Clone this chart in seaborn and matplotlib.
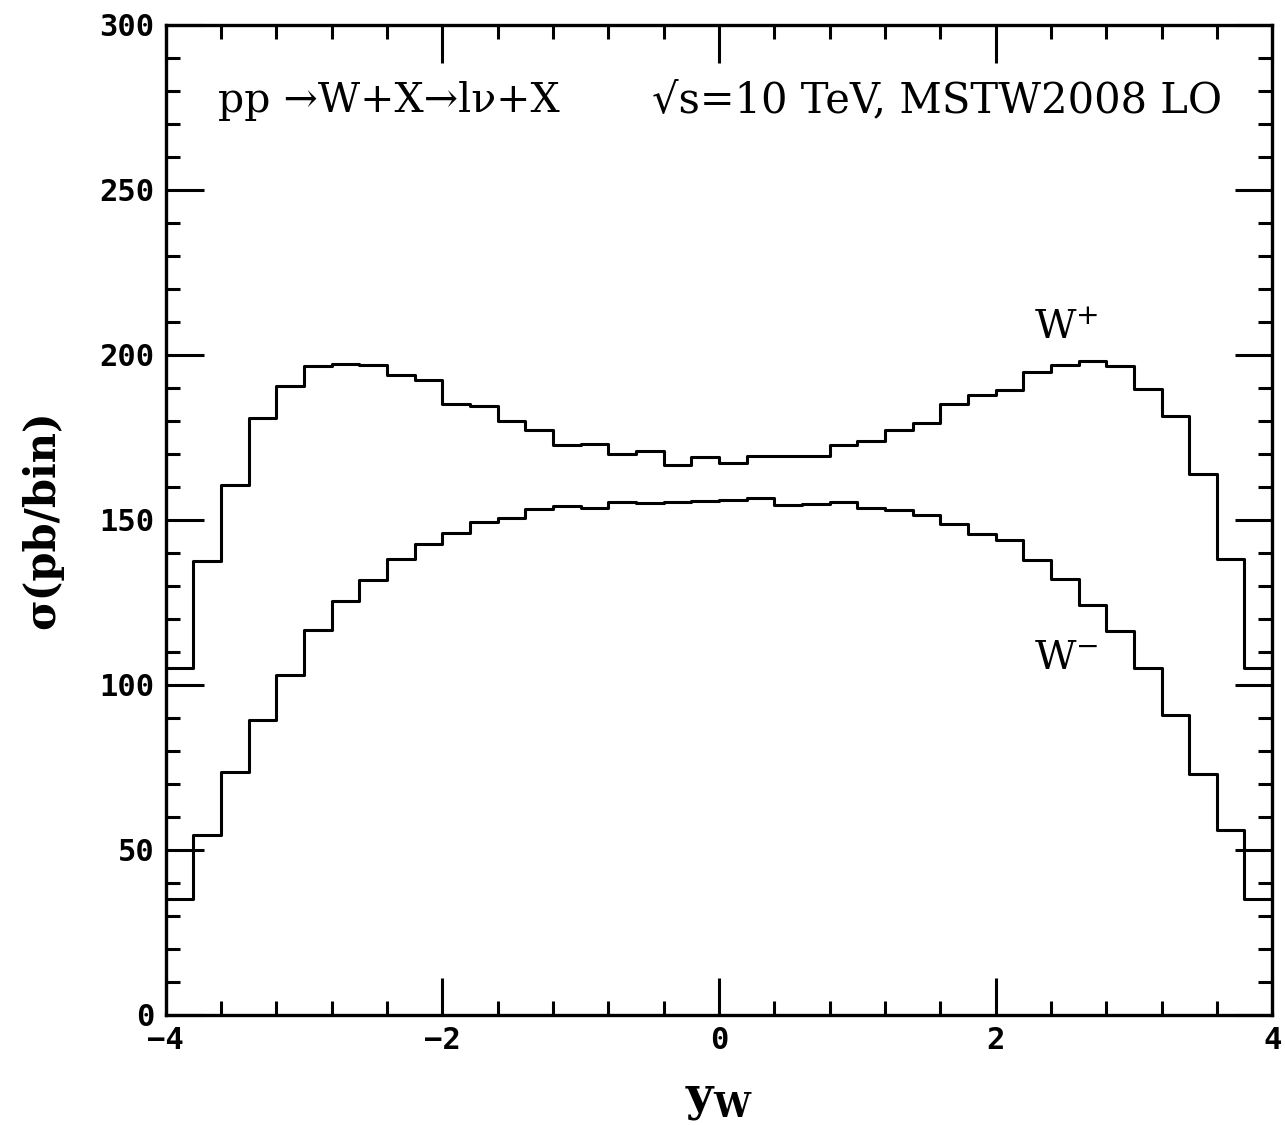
import numpy as np
import pandas as pd
import seaborn as sns
import matplotlib.pyplot as plt
from matplotlib.ticker import MultipleLocator

# bin edges of y_W (width 0.2) and per-bin cross sections
bin_lo, bin_hi, bin_w = -4.0, 4.0, 0.2
w_plus = [105.2, 137.4, 160.4, 180.8, 190.4, 196.7, 197.3, 197.0, 193.8, 192.2,
          185.0, 184.5, 179.9, 177.1, 172.6, 172.9, 170.0, 170.7, 166.5, 168.9,
          167.3, 169.2, 169.2, 169.4, 172.7, 173.9, 177.3, 179.3, 185.1, 187.8,
          189.4, 194.7, 197.0, 198.0, 196.5, 189.6, 181.3, 163.8, 138.1, 105.2]
w_minus = [35.2, 54.5, 73.7, 89.4, 102.9, 116.5, 125.4, 131.8, 138.1, 142.7,
           146.1, 149.2, 150.5, 153.2, 154.2, 153.7, 155.5, 155.2, 155.5, 155.8,
           155.9, 156.6, 154.4, 154.8, 155.5, 153.7, 153.1, 151.3, 148.6, 145.7,
           143.9, 137.9, 132.0, 124.2, 116.4, 105.2, 90.7, 73.0, 56.1, 35.2]

sns.set_style("ticks")
plt.rcParams['font.family'] = ['DejaVu Serif']
plt.rcParams['mathtext.fontset'] = 'dejavuserif'
for key in ['text.color', 'axes.labelcolor', 'axes.edgecolor', 'xtick.color', 'ytick.color']:
    plt.rcParams[key] = 'black'

centers = bin_lo + bin_w * (np.arange(len(w_plus)) + 0.5)
df = pd.DataFrame({
    'y': np.concatenate([centers, centers]),
    'sigma': w_plus + w_minus,
    'boson': ['W+'] * len(w_plus) + ['W-'] * len(w_minus),
})

fig = plt.figure(figsize=(12.85, 11.25), dpi=100)
ax = fig.add_axes([0.129, 0.098, 0.861, 0.880])

for name, sub in df.groupby('boson'):
    sns.histplot(data=sub, x='y', weights='sigma', binwidth=bin_w,
                 binrange=(bin_lo, bin_hi), element='step', fill=False,
                 color='black', linewidth=2.2, ax=ax)

ax.set_xlim(-4, 4)
ax.set_ylim(0, 300)
ax.xaxis.set_major_locator(MultipleLocator(2))
ax.xaxis.set_minor_locator(MultipleLocator(0.4))
ax.yaxis.set_major_locator(MultipleLocator(50))
ax.yaxis.set_minor_locator(MultipleLocator(10))
ax.tick_params(which='both', direction='in', top=True, right=True, width=2.2, color='black')
ax.tick_params(which='major', length=27)
ax.tick_params(which='minor', length=10)
for s in ax.spines.values():
    s.set_linewidth(2.4)
    s.set_color('black')
    s.set_visible(True)

tick_font = dict(family=['DejaVu Sans Mono'], weight='bold', size=22)
ax.set_xticks([-4, -2, 0, 2, 4])
ax.set_xticklabels(['\u22124', '\u22122', '0', '2', '4'], **tick_font)
ax.set_yticks(range(0, 301, 50))
ax.set_yticklabels([str(v) for v in range(0, 301, 50)], **tick_font)
ax.tick_params(axis='x', which='major', pad=8)
ax.tick_params(axis='y', which='major', pad=8)

ax.set_xlabel(r'$\mathbf{y}_{\mathbf{W}}$', fontsize=34, labelpad=16)
ax.set_ylabel('\u03c3(pb/bin)', fontsize=30, fontweight='bold', labelpad=26)

ax.text(-3.62, 277, 'pp \u2192W+X\u2192l\u03bd+X', fontsize=29.5, va='center', ha='left')
ax.text(3.64, 277, '\u221as=10 TeV, MSTW2008 LO', fontsize=30, va='center', ha='right')
ax.text(2.28, 208, r'W$^{+}$', fontsize=29, va='center')
ax.text(2.28, 108, r'W$^{-}$', fontsize=29, va='center')

plt.savefig('out.png', dpi=100)
